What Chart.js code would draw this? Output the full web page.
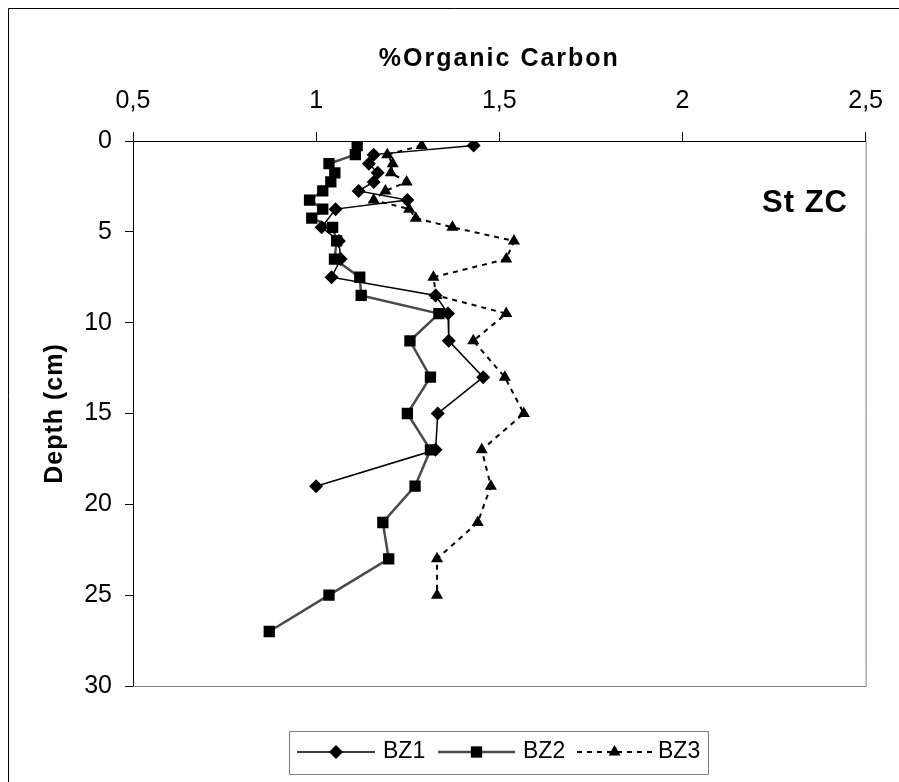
<!DOCTYPE html>
<html>
<head>
<meta charset="utf-8">
<script src="https://cdn.jsdelivr.net/npm/chart.js@4.4.1/dist/chart.umd.min.js"></script>
<style>
  html, body { margin: 0; padding: 0; background: #fff; }
  #wrap { width: 899px; height: 782px; }
</style>
</head>
<body>
<div id="wrap"><canvas id="chart" width="899" height="782"></canvas></div>
<script>
const FONT = "'Liberation Sans', Arial, sans-serif";

// depth (cm) and % organic carbon per core
const depthBZ1 = [0.25, 0.75, 1.25, 1.75, 2.25, 2.75, 3.25, 3.75, 4.75, 5.5, 6.5, 7.5, 8.5, 9.5, 11, 13, 15, 17, 19];
const carbonBZ1 = [1.43, 1.157, 1.144, 1.168, 1.157, 1.116, 1.249, 1.053, 1.015, 1.062, 1.067, 1.042, 1.326, 1.36, 1.362, 1.456, 1.332, 1.326, 1.0];

const depthBZ2 = [0.25, 0.75, 1.25, 1.75, 2.25, 2.75, 3.25, 3.75, 4.25, 4.75, 5.5, 6.5, 7.5, 8.5, 9.5, 11, 13, 15, 17, 19, 21, 23, 25, 27];
const carbonBZ2 = [1.112, 1.107, 1.035, 1.051, 1.04, 1.018, 0.982, 1.018, 0.988, 1.045, 1.056, 1.05, 1.119, 1.123, 1.335, 1.256, 1.312, 1.249, 1.312, 1.27, 1.182, 1.198, 1.035, 0.872];

const depthBZ3 = [0.25, 0.75, 1.25, 1.75, 2.25, 2.75, 3.25, 3.75, 4.25, 4.75, 5.5, 6.5, 7.5, 8.5, 9.5, 11, 13, 15, 17, 19, 21, 23, 25];
const carbonBZ3 = [1.288, 1.194, 1.209, 1.204, 1.247, 1.189, 1.157, 1.254, 1.272, 1.372, 1.54, 1.519, 1.32, 1.328, 1.519, 1.429, 1.515, 1.567, 1.452, 1.477, 1.441, 1.33, 1.33];

const seriesNames = ["BZ1", "BZ2", "BZ3"];
const xTitle = "%Organic Carbon";
const yTitle = "Depth (cm)";
const stationLabel = "St ZC";

function toPoints(depths, values) {
  return depths.map((d, i) => ({ x: values[i], y: d }));
}

function marker(ctx, style, x, y, r) {
  ctx.beginPath();
  if (style === "rectRot") {
    ctx.moveTo(x, y - r); ctx.lineTo(x + r, y); ctx.lineTo(x, y + r); ctx.lineTo(x - r, y);
  } else if (style === "rect") {
    const s = r * Math.SQRT1_2;
    ctx.rect(x - s, y - s, 2 * s, 2 * s);
  } else {
    ctx.moveTo(x, y - r);
    ctx.lineTo(x + r * 0.866, y + r / 2);
    ctx.lineTo(x - r * 0.866, y + r / 2);
  }
  ctx.closePath();
  ctx.fill();
}

const frame = {
  id: "frame",
  beforeDatasetsDraw(chart) {
    const { ctx, chartArea: a } = chart;
    ctx.save();
    ctx.strokeStyle = "#808080";
    ctx.lineWidth = 1;
    ctx.beginPath();
    ctx.moveTo(a.left, a.bottom + 0.5);
    ctx.lineTo(a.right + 0.5, a.bottom + 0.5);
    ctx.lineTo(a.right + 0.5, a.top);
    ctx.stroke();
    ctx.restore();
  },
  afterDraw(chart) {
    const { ctx, chartArea: a } = chart;
    ctx.save();
    // outer chart border
    ctx.strokeStyle = "#000";
    ctx.lineWidth = 1;
    ctx.beginPath();
    ctx.moveTo(8.5, 790);
    ctx.lineTo(8.5, 8.5);
    ctx.lineTo(905, 8.5);
    ctx.stroke();

    ctx.fillStyle = "#000";
    ctx.textBaseline = "alphabetic";
    ctx.textAlign = "center";
    ctx.font = "bold 25px " + FONT;
    ctx.letterSpacing = "2px";
    ctx.fillText(xTitle, (a.left + a.right) / 2, 66);

    ctx.save();
    ctx.translate(55, (a.top + a.bottom) / 2);
    ctx.rotate(-Math.PI / 2);
    ctx.letterSpacing = "1px";
    ctx.textBaseline = "middle";
    ctx.fillText(yTitle, 0, 0);
    ctx.restore();

    ctx.letterSpacing = "1px";
    ctx.font = "bold 31px " + FONT;
    ctx.fillText(stationLabel, 805, 212);
    ctx.letterSpacing = "0px";

    // legend
    const box = { l: 289, t: 731, r: 708, b: 774 };
    ctx.strokeStyle = "#808080";
    ctx.strokeRect(box.l + 0.5, box.t + 0.5, box.r - box.l, box.b - box.t);
    const cy = 752;
    const entries = [
      { x0: 297, x1: 375, tx: 383 },
      { x0: 438, x1: 515, tx: 523 },
      { x0: 577, x1: 652, tx: 658 }
    ];
    chart.data.datasets.forEach((ds, i) => {
      const e = entries[i];
      ctx.save();
      ctx.strokeStyle = ds.borderColor;
      ctx.lineWidth = ds.borderWidth;
      ctx.setLineDash(ds.borderDash || []);
      ctx.beginPath();
      ctx.moveTo(e.x0, cy);
      ctx.lineTo(e.x1, cy);
      ctx.stroke();
      ctx.restore();
      ctx.fillStyle = "#000";
      marker(ctx, ds.pointStyle, (e.x0 + e.x1) / 2, cy, ds.pointRadius);
      ctx.font = "23px " + FONT;
      ctx.textAlign = "left";
      ctx.textBaseline = "middle";
      ctx.fillText(ds.label, e.tx, cy);
    });
    ctx.restore();
  }
};

new Chart(document.getElementById("chart"), {
  type: "scatter",
  data: {
    datasets: [
      {
        label: seriesNames[0],
        data: toPoints(depthBZ1, carbonBZ1),
        showLine: true,
        borderColor: "#000",
        borderWidth: 1.5,
        pointStyle: "rectRot",
        pointRadius: 7,
        pointBackgroundColor: "#000",
        pointBorderColor: "#000",
        pointBorderWidth: 0
      },
      {
        label: seriesNames[1],
        data: toPoints(depthBZ2, carbonBZ2),
        showLine: true,
        borderColor: "#4a4a4a",
        borderWidth: 2.5,
        pointStyle: "rect",
        pointRadius: 8,
        pointBackgroundColor: "#000",
        pointBorderColor: "#000",
        pointBorderWidth: 0
      },
      {
        label: seriesNames[2],
        data: toPoints(depthBZ3, carbonBZ3),
        showLine: true,
        borderColor: "#000",
        borderWidth: 2,
        borderDash: [5, 5],
        pointStyle: "triangle",
        pointRadius: 7,
        pointBackgroundColor: "#000",
        pointBorderColor: "#000",
        pointBorderWidth: 0
      }
    ]
  },
  options: {
    responsive: false,
    animation: false,
    layout: { padding: { left: 0, top: 0, right: 23, bottom: 96 } },
    plugins: { legend: { display: false }, tooltip: { enabled: false } },
    scales: {
      x: {
        type: "linear",
        position: "top",
        min: 0.5,
        max: 2.5,
        ticks: {
          stepSize: 0.5,
          padding: 16,
          color: "#000",
          font: { family: FONT, size: 25 },
          callback: (v) => String(v).replace(".", ",")
        },
        grid: { drawOnChartArea: false, tickLength: 9, color: "#000" },
        border: { color: "#000", width: 1 },
        afterFit: (s) => { s.height = 141; }
      },
      y: {
        type: "linear",
        reverse: true,
        min: 0,
        max: 30,
        ticks: {
          stepSize: 5,
          padding: 13,
          color: "#000",
          font: { family: FONT, size: 25 }
        },
        grid: { drawOnChartArea: false, tickLength: 8, color: "#000" },
        border: { color: "#000", width: 1 },
        afterFit: (s) => { s.width = 133; }
      }
    }
  },
  plugins: [frame]
});
</script>
</body>
</html>
